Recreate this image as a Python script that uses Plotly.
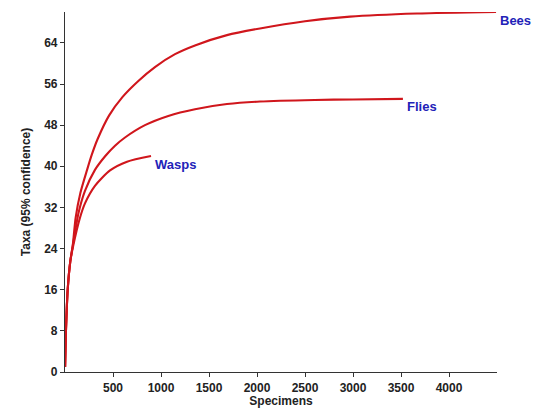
import plotly.graph_objects as go

bees_x = [1, 10, 28, 55, 80, 111, 160, 230, 280, 340, 460, 600, 764, 937, 1146, 1354, 1687, 2031, 2500, 2969, 3667, 4490]
bees_y = [1, 8, 16, 21.5, 24.5, 30, 34.8, 39.3, 42.3, 45.3, 49.9, 53.5, 56.6, 59.3, 61.8, 63.5, 65.5, 66.8, 68.2, 69.1, 69.7, 70.0]

flies_x = [1, 10, 28, 55, 85, 142, 208, 312, 420, 521, 625, 833, 1076, 1354, 1687, 2031, 2600, 3000, 3520]
flies_y = [1, 8, 16, 21.5, 25, 31, 35.2, 39.3, 42, 44, 45.6, 48, 49.8, 51.1, 52.1, 52.6, 52.9, 53.0, 53.1]

wasps_x = [1, 10, 28, 55, 85, 156, 208, 312, 469, 646, 896]
wasps_y = [1, 8, 16, 21.5, 24.5, 30, 32.8, 36.2, 39.2, 40.9, 42]

series = [("Bees", bees_x, bees_y), ("Flies", flies_x, flies_y), ("Wasps", wasps_x, wasps_y)]

x_ticks = [500, 1000, 1500, 2000, 2500, 3000, 3500, 4000]
y_ticks = [0, 8, 16, 24, 32, 40, 48, 56, 64]

FONT = "Liberation Sans, Arial, sans-serif"
LINE = "#d0161c"
LABEL = "#2222b8"

fig = go.Figure()
for name, xs, ys in series:
    fig.add_trace(go.Scatter(x=xs, y=ys, mode="lines", name=name,
                             line=dict(color=LINE, width=2.1, shape="spline", smoothing=0.7),
                             showlegend=False, hoverinfo="skip", cliponaxis=False))
    fig.add_annotation(x=xs[-1], y=ys[-1], text=name, showarrow=False,
                       xanchor="left", yanchor="middle", xshift=2, yshift=-8,
                       font=dict(family=FONT, size=13, color=LABEL, weight="bold"))

axis_common = dict(showgrid=False, zeroline=False, showline=True, linecolor="#333",
                   linewidth=1.2, ticks="outside", ticklen=4, tickcolor="#333",
                   automargin=False,
                   tickfont=dict(family=FONT, size=12, color="#222", weight="bold"))

fig.update_xaxes(range=[0, 4500], tickvals=x_ticks, ticktext=[str(v) for v in x_ticks],
                 title=dict(text="Specimens", standoff=2,
                            font=dict(family=FONT, size=12, color="#222", weight="bold")),
                 **axis_common)
fig.update_yaxes(range=[0, 70], tickvals=y_ticks, ticktext=[str(v) for v in y_ticks],
                 title=dict(text="Taxa (95% confidence)", standoff=10,
                            font=dict(family=FONT, size=12, color="#222", weight="bold")),
                 **axis_common)

fig.update_layout(width=537, height=411, margin=dict(l=65, r=40, t=12, b=39),
                  plot_bgcolor="white", paper_bgcolor="white")

fig.write_html("out.html", config={"displayModeBar": False},
               post_script="document.body.style.margin='0';document.body.style.overflow='hidden';")
